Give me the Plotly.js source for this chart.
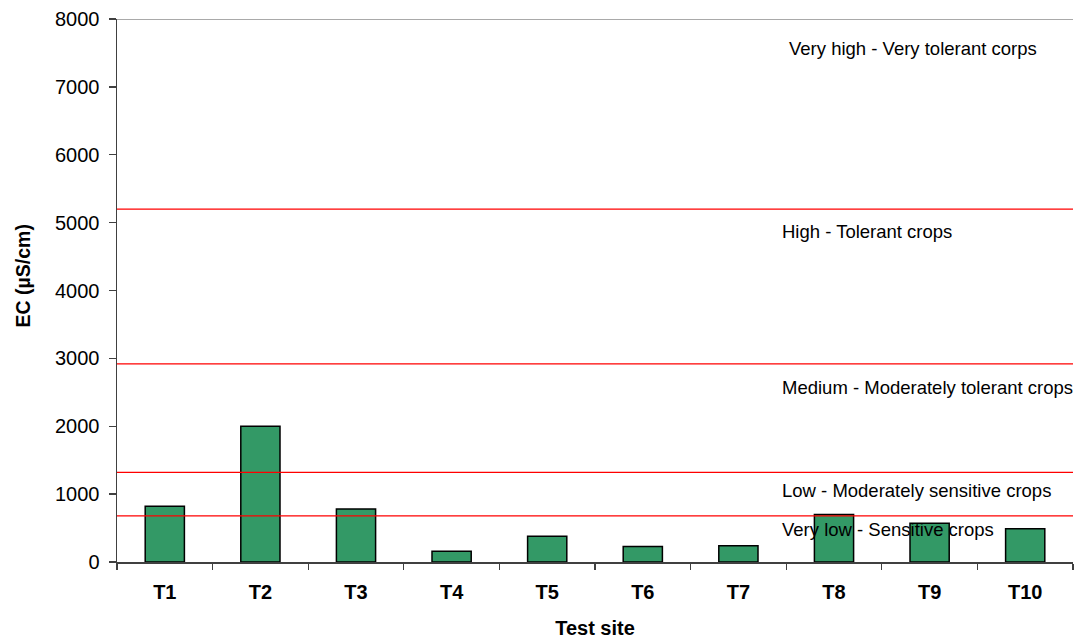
<!DOCTYPE html>
<html>
<head>
<meta charset="utf-8">
<script src="https://cdn.plot.ly/plotly-3.0.1.min.js"></script>
<style>
  html, body { margin: 0; padding: 0; background: #fff; }
  #chart { width: 1076px; height: 639px; }
</style>
</head>
<body>
<div id="chart"></div>
<script>
// Electrical conductivity measured at each test site
const sites = ['T1', 'T2', 'T3', 'T4', 'T5', 'T6', 'T7', 'T8', 'T9', 'T10'];
const ecValues = [820, 2000, 780, 160, 380, 230, 240, 700, 570, 490];

// Salinity class boundaries (µS/cm) and class descriptions
const classLimits = [680, 1320, 2920, 5200];
const classLabels = [
  'Very low - Sensitive crops',
  'Low - Moderately sensitive crops',
  'Medium - Moderately tolerant crops',
  'High - Tolerant crops',
  'Very high - Very tolerant corps'
];
const yMax = 8000;
const yTicks = [0, 1000, 2000, 3000, 4000, 5000, 6000, 7000, 8000];
const yTitle = 'EC (µS/cm)';
const xTitle = 'Test site';

// placement of each class label
const labelY = [480, 1057, 2574, 4869, 7567];
const labelX = [0.6935, 0.6935, 0.6935, 0.6935, 0.7005];

const font = 'Arial, "Liberation Sans", sans-serif';

const trace = {
  type: 'bar',
  x: sites,
  y: ecValues,
  width: 0.41,
  marker: { color: '#339966', line: { color: '#000000', width: 1.5 } },
  hoverinfo: 'x+y'
};

const shapes = classLimits.map(v => ({
  type: 'line', xref: 'paper', yref: 'y',
  x0: 0, x1: 1, y0: v, y1: v,
  line: { color: '#ff0000', width: 1.3 },
  layer: 'above'
}));
// top frame line
shapes.push({
  type: 'line', xref: 'paper', yref: 'y',
  x0: 0, x1: 1, y0: yMax, y1: yMax,
  line: { color: '#8c8c8c', width: 1.3 },
  layer: 'below'
});

const annotations = classLabels.map((t, i) => ({
  text: t, xref: 'paper', yref: 'y',
  x: labelX[i], y: labelY[i],
  xanchor: 'left', yanchor: 'middle',
  showarrow: false,
  font: { family: font, size: 18.5, color: '#000' }
}));
// vertical axis title, set slightly above the axis midpoint
annotations.push({
  text: '<b>' + yTitle + '</b>', xref: 'paper', yref: 'paper',
  x: -0.0988, y: 0.527, xanchor: 'center', yanchor: 'middle',
  textangle: -90, showarrow: false,
  font: { family: font, size: 19.5, color: '#000' }
});

const layout = {
  width: 1076, height: 639,
  margin: { l: 117, r: 3, t: 19, b: 77 },
  paper_bgcolor: '#ffffff',
  plot_bgcolor: '#ffffff',
  showlegend: false,
  font: { family: font, color: '#000' },
  xaxis: {
    type: 'category',
    range: [-0.5, 9.5],
    tickson: 'boundaries',
    ticks: 'outside', ticklen: 6, tickcolor: '#404040', tickwidth: 1.3,
    ticklabelstandoff: 11,
    showline: true, linecolor: '#404040', linewidth: 1.5,
    showgrid: false, zeroline: false,
    tickfont: { family: font, size: 20, color: '#000', weight: 'bold' },
    title: { text: '<b>' + xTitle + '</b>', font: { family: font, size: 20, color: '#000' }, standoff: 20 }
  },
  yaxis: {
    range: [0, yMax],
    tickvals: yTicks,
    ticktext: yTicks.map(String),
    ticks: 'outside', ticklen: 7, tickcolor: '#404040', tickwidth: 1.3,
    ticklabelstandoff: 5,
    showline: true, linecolor: '#404040', linewidth: 1.5,
    showgrid: false, zeroline: false,
    tickfont: { family: font, size: 20, color: '#000' }
  },
  shapes: shapes,
  annotations: annotations
};

Plotly.newPlot('chart', [trace], layout, { staticPlot: true, displayModeBar: false });
</script>
</body>
</html>
